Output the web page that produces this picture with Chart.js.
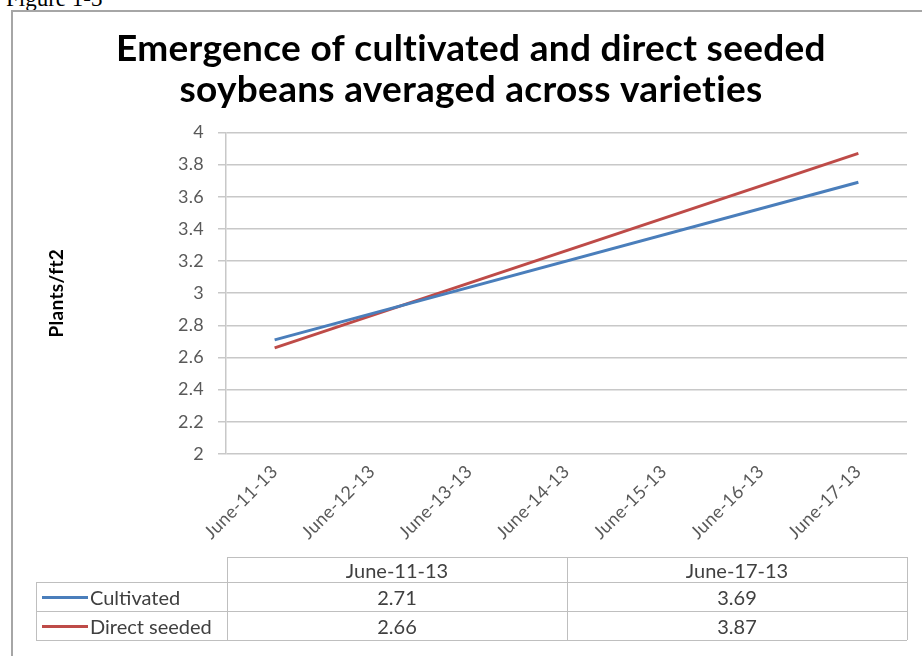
<!DOCTYPE html>
<html>
<head>
<meta charset="utf-8">
<script src="https://cdn.jsdelivr.net/npm/chart.js@4.4.0/dist/chart.umd.min.js"></script>
<style>
  body { margin: 0; background: #fff; overflow: hidden; }
  #wrap { position: relative; width: 922px; height: 656px; overflow: hidden; }
  #fig { position: absolute; left: 6px; top: -13px; font-family: "Liberation Serif", serif; font-size: 23px; line-height: 23px; color: #000; }
  #frame { position: absolute; left: 11px; top: 10px; width: 940px; height: 700px; border: 2px solid #a6a6a6; }
  #chart-box { position: absolute; left: 0; top: 0; width: 922px; height: 656px; }
  .cell { position: absolute; font-family: Lato, sans-serif; font-size: 20px; color: #404040; line-height: 1; }
  .hl { position: absolute; height: 1px; background: #bfbfbf; }
  .vl { position: absolute; width: 1px; background: #bfbfbf; }
  .swatch { position: absolute; height: 3px; }
</style>
</head>
<body>
<div id="wrap">
  <div id="fig">Figure 1-3</div>
  <div id="frame"></div>
  <div id="chart-box"><canvas id="chart-emergence" width="922" height="656"></canvas></div>
  <div id="table"></div>
</div>
<script>
'use strict';

var dates = ['June-11-13', 'June-12-13', 'June-13-13', 'June-14-13', 'June-15-13', 'June-16-13', 'June-17-13'];
var cultivated = [2.71, null, null, null, null, null, 3.69];
var direct_seeded = [2.66, null, null, null, null, null, 3.87];
var series_names = ['Cultivated', 'Direct seeded'];
var series_colors = ['#4a7ebb', '#be4b48'];

var tick_font = { family: 'Lato', size: 18 };
var tick_color = '#595959';

var ctx_emergence = document.getElementById('chart-emergence').getContext('2d');

// small letter spacing so the canvas text does not use ligatures
var noLigatures = {
    id: 'noLigatures',
    beforeDraw: function(chart) {
        chart.ctx.letterSpacing = '0.3px';
    }
};

var chart_emergence = new Chart(ctx_emergence, {
    type: 'line',
    data: {
        labels: dates,
        datasets: [{
                label: series_names[0],
                data: cultivated,
                borderColor: series_colors[0],
                backgroundColor: series_colors[0],
                borderWidth: 3,
                pointRadius: 0,
                spanGaps: true,
                tension: 0
            },
            {
                label: series_names[1],
                data: direct_seeded,
                borderColor: series_colors[1],
                backgroundColor: series_colors[1],
                borderWidth: 3,
                pointRadius: 0,
                spanGaps: true,
                tension: 0
            }
        ]
    },
    plugins: [noLigatures],
    options: {
        responsive: false,
        animation: false,
        layout: {
            padding: { left: 35, right: 15, top: 0, bottom: 112 }
        },
        plugins: {
            legend: { display: false },
            tooltip: { enabled: false },
            title: {
                display: true,
                text: ['Emergence of cultivated and direct seeded', 'soybeans averaged across varieties'],
                color: '#000',
                font: { family: 'Lato', size: 37, weight: 'bold', lineHeight: 1.1 },
                padding: { top: 29, bottom: 22 }
            }
        },
        scales: {
            x: {
                offset: true,
                grid: { display: false, drawTicks: false },
                border: { display: false },
                ticks: {
                    color: tick_color,
                    font: tick_font,
                    autoSkip: false,
                    minRotation: 45,
                    maxRotation: 45,
                    padding: 7
                },
                afterFit: function(scale) {
                    scale.height = 90;
                }
            },
            y: {
                min: 2,
                max: 4,
                ticks: {
                    stepSize: 0.2,
                    color: tick_color,
                    font: tick_font,
                    padding: 14,
                    callback: function(v) { return Math.round(v * 10) / 10; }
                },
                grid: { color: '#c8c8c8', lineWidth: 1.5, tickLength: 8 },
                border: { color: '#c8c8c8', width: 1.5 },
                title: {
                    display: true,
                    text: 'Plants/ft2',
                    color: '#000',
                    font: { family: 'Lato', size: 19, weight: 'bold' },
                    padding: { top: 10, bottom: 0 }
                },
                afterFit: function(scale) {
                    scale.width = 191;
                }
            }
        }
    }
});

// data table under the chart, only the dates that carry values
function build_table() {
    var box = document.getElementById('table');
    var cols = [];
    for (var i = 0; i < dates.length; i++) {
        if (cultivated[i] !== null || direct_seeded[i] !== null) cols.push(i);
    }
    var rows = [cultivated, direct_seeded];
    var x0 = 36, x1 = 227, x2 = 907;
    var ys = [557, 582, 611, 640];
    var colW = (x2 - x1) / cols.length;
    var html = '';

    html += '<div class="hl" style="left:' + x1 + 'px;top:' + ys[0] + 'px;width:' + (x2 - x1) + 'px"></div>';
    for (var r = 1; r < ys.length; r++) {
        html += '<div class="hl" style="left:' + x0 + 'px;top:' + ys[r] + 'px;width:' + (x2 - x0) + 'px"></div>';
    }
    html += '<div class="vl" style="left:' + x0 + 'px;top:' + ys[1] + 'px;height:' + (ys[3] - ys[1]) + 'px"></div>';
    for (var c = 0; c <= cols.length; c++) {
        var vx = Math.round(x1 + c * colW);
        html += '<div class="vl" style="left:' + vx + 'px;top:' + ys[0] + 'px;height:' + (ys[3] - ys[0]) + 'px"></div>';
    }

    for (var c = 0; c < cols.length; c++) {
        var cx = x1 + c * colW;
        html += '<div class="cell" style="left:' + cx + 'px;width:' + colW + 'px;text-align:center;top:' + (ys[0] + 3) + 'px">' + dates[cols[c]] + '</div>';
        for (var r = 0; r < rows.length; r++) {
            html += '<div class="cell" style="left:' + cx + 'px;width:' + colW + 'px;text-align:center;top:' + (ys[r + 1] + 5) + 'px">' + rows[r][cols[c]].toFixed(2) + '</div>';
        }
    }
    for (var r = 0; r < rows.length; r++) {
        var ym = (ys[r + 1] + ys[r + 2]) / 2;
        html += '<div class="swatch" style="left:42px;width:46px;top:' + (ym - 1) + 'px;background:' + series_colors[r] + '"></div>';
        html += '<div class="cell" style="left:90px;top:' + (ym - 10) + 'px">' + series_names[r] + '</div>';
    }
    box.innerHTML = html;
}

build_table();
</script>
</body>
</html>
